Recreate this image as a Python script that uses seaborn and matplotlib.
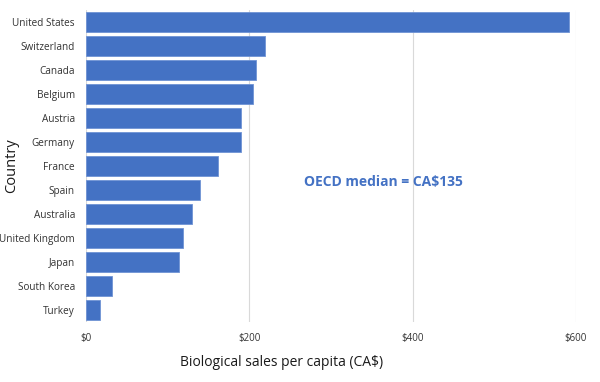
import seaborn as sns
import matplotlib.pyplot as plt
import pandas as pd

countries = ["United States", "Switzerland", "Canada", "Belgium", "Austria", "Germany",
             "France", "Spain", "Australia", "United Kingdom", "Japan", "South Korea", "Turkey"]
sales = [591, 219, 208, 205, 190, 190, 162, 139, 130, 119, 114, 32, 17]
x_ticks = [0, 200, 400, 600]
x_tick_labels = ["$0", "$200", "$400", "$600"]

df = pd.DataFrame({"Country": countries, "Sales": sales})

sns.set_style("white")
plt.rcParams["font.family"] = ["Open Sans", "DejaVu Sans"]

fig = plt.figure(figsize=(6, 3.82), dpi=100)
ax = fig.add_axes([86 / 600, 1 - 322 / 382, (576 - 86) / 600, 312 / 382])

blue = "#4472C4"
sns.barplot(data=df, x="Sales", y="Country", color=blue, saturation=1, width=0.84,
            edgecolor="#6f93d4", linewidth=0.6, ax=ax, zorder=3)

ax.set_xlim(0, 600)
ax.set_ylim(12.5, -0.5)
ax.set_xticks(x_ticks)
ax.set_xticklabels(x_tick_labels, fontsize=7, color="#333333")
ax.tick_params(axis="y", labelsize=7.2, colors="#333333", pad=8, length=0)
ax.tick_params(axis="x", pad=8, length=0)
ax.xaxis.grid(True, color="#D9D9D9", linewidth=0.8, zorder=0)
for s in ax.spines.values():
    s.set_visible(False)

ax.set_xlabel("Biological sales per capita (CA$)", fontsize=10, color="#1a1a1a")
ax.set_ylabel("Country", fontsize=10.5, color="#1a1a1a")
ax.xaxis.set_label_coords((282 - 86) / 490, -(362 - 322) / 312)
ax.yaxis.set_label_coords(-(86 - 12) / 490, 0.5)
ax.xaxis.label.set_va("center")
ax.yaxis.label.set_va("center")

ax.text(267, 6.65, "OECD median = CA$135", color=blue, fontsize=10, fontweight="bold",
        va="center", ha="left")

fig.savefig("out.png", dpi=100)
